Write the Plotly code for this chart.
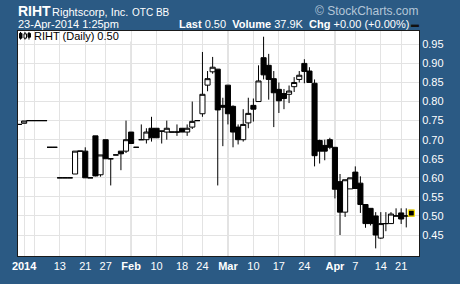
import plotly.graph_objects as go

# ---------------- data ----------------
dates = [
    "2013-12-31",
    "2014-01-02", "2014-01-03", "2014-01-06", "2014-01-07", "2014-01-08", "2014-01-09", "2014-01-10",
    "2014-01-13", "2014-01-14", "2014-01-15", "2014-01-16", "2014-01-17", "2014-01-21", "2014-01-22",
    "2014-01-23", "2014-01-24", "2014-01-27", "2014-01-28", "2014-01-29", "2014-01-30", "2014-01-31",
    "2014-02-03", "2014-02-04", "2014-02-05", "2014-02-06", "2014-02-07", "2014-02-10", "2014-02-11",
    "2014-02-12", "2014-02-13", "2014-02-14", "2014-02-18", "2014-02-19", "2014-02-20", "2014-02-21",
    "2014-02-24", "2014-02-25", "2014-02-26", "2014-02-27", "2014-02-28",
    "2014-03-03", "2014-03-04", "2014-03-05", "2014-03-06", "2014-03-07", "2014-03-10", "2014-03-11",
    "2014-03-12", "2014-03-13", "2014-03-14", "2014-03-17", "2014-03-18", "2014-03-19", "2014-03-20",
    "2014-03-21", "2014-03-24", "2014-03-25", "2014-03-26", "2014-03-27", "2014-03-28", "2014-03-31",
    "2014-04-01", "2014-04-02", "2014-04-03", "2014-04-04", "2014-04-07", "2014-04-08", "2014-04-09",
    "2014-04-10", "2014-04-11", "2014-04-14", "2014-04-15", "2014-04-16", "2014-04-17", "2014-04-21",
    "2014-04-22", "2014-04-23",
]
opens = [
    0.74,
    0.743, 0.75, 0.75, 0.75, 0.75, 0.68, 0.68,
    0.60, 0.60, 0.60, 0.61, 0.67, 0.67, 0.60,
    0.71, 0.608, 0.70, 0.65, 0.66, 0.67, 0.67,
    0.72, 0.68, 0.70, 0.70, 0.73, 0.73, 0.7225,
    0.72, 0.72, 0.72, 0.73, 0.72, 0.733, 0.75,
    0.768, 0.843, 0.878, 0.885, 0.79,
    0.843, 0.7875, 0.733, 0.70, 0.744, 0.79, 0.80,
    0.915, 0.895, 0.86, 0.832, 0.821, 0.819, 0.839,
    0.858, 0.90, 0.88, 0.848, 0.698, 0.685, 0.70,
    0.68, 0.59, 0.51, 0.571, 0.615, 0.586, 0.53,
    0.52, 0.50, 0.442, 0.48, 0.48, 0.50, 0.508,
    0.50, 0.515,
]
highs = [
    0.74,
    0.749, 0.75, 0.75, 0.75, 0.75, 0.68, 0.68,
    0.60, 0.60, 0.60, 0.67, 0.67, 0.68, 0.60,
    0.71, 0.66, 0.70, 0.65, 0.66, 0.67, 0.75,
    0.72, 0.68, 0.74, 0.73, 0.76, 0.73, 0.7225,
    0.75, 0.72, 0.74, 0.73, 0.74, 0.80, 0.75,
    0.93, 0.88, 0.917, 0.885, 0.81,
    0.843, 0.79, 0.74, 0.78, 0.81, 0.808, 0.895,
    0.97, 0.925, 0.88, 0.85, 0.833, 0.842, 0.864,
    0.88, 0.911, 0.89, 0.858, 0.70, 0.70, 0.705,
    0.68, 0.61, 0.595, 0.60, 0.63, 0.604, 0.53,
    0.52, 0.51, 0.51, 0.51, 0.51, 0.52, 0.52,
    0.52, 0.515,
]
lows = [
    0.74,
    0.743, 0.75, 0.75, 0.75, 0.75, 0.68, 0.68,
    0.60, 0.60, 0.60, 0.61, 0.67, 0.60, 0.60,
    0.604, 0.603, 0.65, 0.58, 0.66, 0.62, 0.665,
    0.69, 0.68, 0.70, 0.69, 0.695, 0.705, 0.69,
    0.70, 0.72, 0.71, 0.72, 0.71, 0.728, 0.75,
    0.76, 0.827, 0.873, 0.58, 0.683,
    0.74, 0.68, 0.6875, 0.695, 0.73, 0.7475, 0.80,
    0.858, 0.805, 0.733, 0.77, 0.78, 0.796, 0.825,
    0.85, 0.848, 0.85, 0.63, 0.6375, 0.646, 0.675,
    0.546, 0.45, 0.4975, 0.571, 0.572, 0.508, 0.469,
    0.475, 0.415, 0.44, 0.46, 0.48, 0.50, 0.479,
    0.47, 0.50,
]
closes = [
    0.74,
    0.749, 0.75, 0.75, 0.75, 0.75, 0.68, 0.68,
    0.60, 0.60, 0.60, 0.67, 0.67, 0.60, 0.60,
    0.605, 0.66, 0.65, 0.65, 0.66, 0.663, 0.70,
    0.69, 0.68, 0.70, 0.72, 0.705, 0.705, 0.7225,
    0.73, 0.72, 0.72, 0.72, 0.73, 0.748, 0.75,
    0.819, 0.86, 0.89, 0.778, 0.785,
    0.768, 0.72, 0.70, 0.74, 0.769, 0.78, 0.854,
    0.87, 0.858, 0.823, 0.802, 0.808, 0.8275, 0.85,
    0.869, 0.879, 0.85, 0.658, 0.67, 0.67, 0.68,
    0.57, 0.51, 0.595, 0.60, 0.572, 0.53, 0.48,
    0.48, 0.45, 0.48, 0.48, 0.505, 0.50, 0.492,
    0.50, 0.50,
]

tick_dates = ["2014-01-02", "2014-01-06", "2014-01-13", "2014-01-21", "2014-01-27",
              "2014-02-03", "2014-02-10", "2014-02-18", "2014-02-24",
              "2014-03-03", "2014-03-10", "2014-03-17", "2014-03-24",
              "2014-04-01", "2014-04-07", "2014-04-14", "2014-04-21"]
tick_labels = ["<b>2014</b>", "", "13", "21", "27",
               "<b>Feb</b>", "10", "18", "24",
               "<b>Mar</b>", "10", "17", "24",
               "<b>Apr</b>", "7", "14", "21"]
month_starts = ["2014-02-03", "2014-03-03", "2014-04-01"]
y_ticks = [0.45, 0.50, 0.55, 0.60, 0.65, 0.70, 0.75, 0.80, 0.85, 0.90, 0.95]

symbol = "RIHT"
company = "Rightscorp, Inc."
exchange = "OTC BB"
stamp = "23-Apr-2014 1:25pm"
volume = "37.9K"
change = "+0.00 (+0.00%)"

# ---------------- figure ----------------
FONT = "Liberation Sans, Arial, sans-serif"
BG = "#2B5A84"
W, H = 460, 284
ML, MR, MT, MB = 17, 41, 31, 17
PW, PH = W - ML - MR, H - MT - MB


def px(x):
    return (x - ML) / PW


def py(y):
    return (H - MB - y) / PH


fig = go.Figure()
fig.add_trace(go.Candlestick(
    x=dates, open=opens, high=highs, low=lows, close=closes,
    increasing=dict(line=dict(color="black", width=1), fillcolor="white"),
    decreasing=dict(line=dict(color="black", width=1), fillcolor="black"),
    whiskerwidth=0, showlegend=False, hoverinfo="skip",
))
# highlight of the last bar
fig.add_trace(go.Scatter(
    x=[dates[-1]], y=[(opens[-1] + closes[-1]) / 2], mode="markers",
    marker=dict(symbol="square", size=6, color="black",
                line=dict(color="#FFE600", width=1.2)),
    showlegend=False, hoverinfo="skip",
))

shapes = []
for d in month_starts:
    shapes.append(dict(type="line", xref="x", yref="paper", x0=d, x1=d, y0=0, y1=1,
                       line=dict(color="#BDBDBD", width=1), layer="between"))
# white label box at top-left of the plot
shapes.append(dict(type="rect", xref="paper", yref="paper", x0=0, x1=px(131),
                   y0=py(42), y1=1, fillcolor="white", line=dict(width=0), layer="between"))
# small candle icon
shapes += [
    dict(type="line", xref="paper", yref="paper", x0=px(19.5), x1=px(19.5), y0=py(40), y1=py(32),
         line=dict(color="black", width=1), layer="above"),
    dict(type="rect", xref="paper", yref="paper", x0=px(18.5), x1=px(21), y0=py(38.5), y1=py(33.5),
         fillcolor="black", line=dict(color="black", width=1), layer="above"),
    dict(type="line", xref="paper", yref="paper", x0=px(24), x1=px(24), y0=py(40), y1=py(32),
         line=dict(color="black", width=1), layer="above"),
    dict(type="rect", xref="paper", yref="paper", x0=px(23), x1=px(25.5), y0=py(38.5), y1=py(34),
         fillcolor="white", line=dict(color="black", width=1), layer="above"),
    dict(type="line", xref="paper", yref="paper", x0=px(28), x1=px(28), y0=py(40), y1=py(32),
         line=dict(color="black", width=1), layer="above"),
    dict(type="rect", xref="paper", yref="paper", x0=px(27), x1=px(29.5), y0=py(37.5), y1=py(33.5),
         fillcolor="black", line=dict(color="black", width=1), layer="above"),
]

annotations = [
    dict(text=f"<b>{symbol}</b>", x=px(15), y=py(10.5), xanchor="left", yanchor="middle",
         font=dict(family=FONT, size=14, color="white")),
    dict(text=company, x=px(49), y=py(11), xanchor="left", yanchor="middle",
         font=dict(family=FONT, size=11, color="white")),
    dict(text=exchange, x=px(129), y=py(11.5), xanchor="left", yanchor="middle",
         font=dict(family=FONT, size=10, color="white")),
    dict(text="© StockCharts.com", x=px(421), y=py(10.5), xanchor="right", yanchor="middle",
         font=dict(family=FONT, size=12, color="#B4C6D8")),
    dict(text=stamp, x=px(15), y=py(24), xanchor="left", yanchor="middle",
         font=dict(family=FONT, size=11, color="white")),
    dict(text=f"<b>Last</b> {closes[-1]:.2f}  <b>Volume</b> {volume}  <b>Chg</b> {change}",
         x=px(411), y=py(24), xanchor="right", yanchor="middle",
         font=dict(family=FONT, size=11, color="white")),
    dict(text="▬", x=px(409), y=py(24), xanchor="left", yanchor="middle",
         font=dict(family=FONT, size=8, color="#111111")),
    dict(text=f"{symbol} (Daily) {closes[-1]:.2f}", x=px(31), y=py(36.5), xanchor="left",
         yanchor="middle", font=dict(family=FONT, size=11, color="black")),
]
for a in annotations:
    a.update(xref="paper", yref="paper", showarrow=False)

fig.update_layout(
    width=W, height=H,
    margin=dict(l=ML, r=MR, t=MT, b=MB, pad=0),
    paper_bgcolor=BG, plot_bgcolor="white",
    boxgap=0.0, boxgroupgap=0,
    shapes=shapes, annotations=annotations,
    showlegend=False,
    font=dict(family=FONT, size=11, color="white"),
)
fig.update_xaxes(
    type="category", categoryorder="array", categoryarray=dates,
    range=[-0.2, len(dates) + 0.5],
    rangeslider=dict(visible=False),
    tickvals=tick_dates, ticktext=tick_labels, ticks="",
    tickfont=dict(family=FONT, size=11, color="white"),
    showgrid=True, gridcolor="#E3E3E3", gridwidth=1,
    showline=True, linecolor="#1A1A1A", linewidth=1, mirror=True,
    zeroline=False, fixedrange=True,
)
fig.update_yaxes(
    side="right", range=[0.395, 0.985],
    tickvals=y_ticks, ticktext=[f"{v:.2f}" for v in y_ticks], ticks="",
    tickfont=dict(family=FONT, size=11, color="white"),
    showgrid=True, gridcolor="#E3E3E3", gridwidth=1,
    showline=True, linecolor="#1A1A1A", linewidth=1, mirror=True,
    zeroline=False, fixedrange=True,
)

fig.write_html("out.html", config=dict(displayModeBar=False))
